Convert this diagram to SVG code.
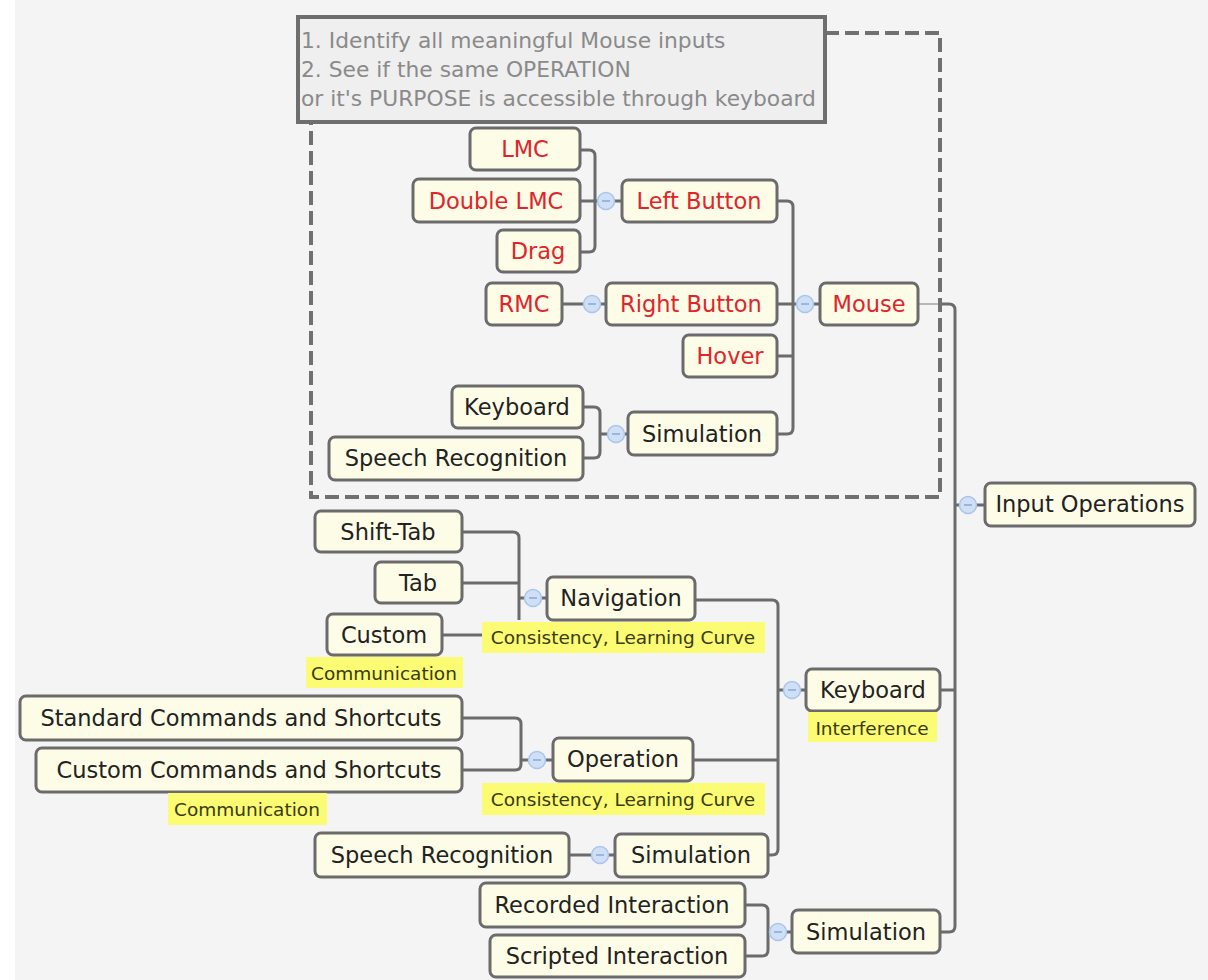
<svg xmlns="http://www.w3.org/2000/svg" width="1208" height="980" viewBox="0 0 1208 980">
<style>
.n{fill:#fdfce6;stroke:#6b6b6b;stroke-width:3}
.t{font-family:"DejaVu Sans",Verdana,sans-serif;font-size:22.5px;fill:#222;text-anchor:middle;dominant-baseline:central}
.r{fill:#e0242b}
.lb{fill:#fbfb74}
.lt{font-family:"DejaVu Sans",Verdana,sans-serif;font-size:18.5px;fill:#3a3a10;text-anchor:middle;dominant-baseline:central}
.c{fill:none;stroke:#6b6b6b;stroke-width:3}
.k{fill:#cfe0f6;stroke:#a9c5ec;stroke-width:1.5}
.km{stroke:#8aa9d6;stroke-width:1.5}
.nt{font-family:"DejaVu Sans",Verdana,sans-serif;font-size:21.8px;fill:#8a8a8a}
</style>
<defs>
<g id="col"><circle r="8.5" class="k"/><line x1="-4" y1="0" x2="4" y2="0" class="km"/></g>
</defs>
<rect x="0" y="0" width="1208" height="980" fill="#ffffff"/>
<rect x="15" y="0" width="1193" height="980" fill="#f4f4f4"/>

<g id="connectors">
<path class="c" d="M580,150 H589 Q595,150 595,156 V246 Q595,252 589,252 H580 M580,201 H598 M614,201 H622"/>
<path class="c" d="M562,304 H584 M600,304 H606"/>
<path class="c" d="M777,201 H787 Q793,201 793,207 V428 Q793,434 787,434 H777 M777,304 H797 M777,356 H793 M813,304 H820"/>
<path class="c" d="M583,407 H594 Q600,407 600,413 V452 Q600,458 594,458 H583 M600,434 H608 M624,434 H628"/>
<path class="c" d="M940,304 H949 Q955,304 955,310 V926 Q955,932 949,932 H940 M940,690 H955 M955,505 H960 M976,505 H985"/>
<path d="M918,304 H942" fill="none" stroke="#b8b8b8" stroke-width="2"/>
<path class="c" d="M695,600 H772 Q778,600 778,606 V849 Q778,855 772,855 H768 M693,760 H778 M778,690 H784 M800,690 H806"/>
<path class="c" d="M462,532 H513 Q519,532 519,538 V620 M462,583 H519 M442,635 H482 M519,598 H525 M541,598 H547"/>
<path class="c" d="M462,718 H515 Q521,718 521,724 V764 Q521,770 515,770 H462 M521,760 H529 M545,760 H553"/>
<path class="c" d="M569,855 H592 M608,855 H615"/>
<path class="c" d="M745,905 H762 Q768,905 768,911 V950 Q768,956 762,956 H745 M768,932 H770 M786,932 H792"/>
<use href="#col" x="606" y="201"/>
<use href="#col" x="592" y="304"/>
<use href="#col" x="805" y="304"/>
<use href="#col" x="616" y="434"/>
<use href="#col" x="968" y="505"/>
<use href="#col" x="792" y="690"/>
<use href="#col" x="533" y="598"/>
<use href="#col" x="537" y="760"/>
<use href="#col" x="600" y="855"/>
<use href="#col" x="778" y="932"/>
</g>

<g id="boundary">
<path d="M825,33 H940 V497 H311 V122" fill="none" stroke="#707070" stroke-width="4" stroke-dasharray="14 6"/>
</g>

<g id="note">
<rect x="298" y="17" width="527" height="105" fill="#efefef" stroke="#6e6e6e" stroke-width="4"/>
<text class="nt" x="301" y="48">1. Identify all meaningful Mouse inputs</text>
<text class="nt" x="301" y="77">2. See if the same OPERATION</text>
<text class="nt" x="301" y="106">or it's PURPOSE is accessible through keyboard</text>
</g>

<g id="lmc"><rect class="n" x="470" y="128" width="110" height="42" rx="6"/><text class="t r" x="525" y="149">LMC</text></g>
<g id="double-lmc"><rect class="n" x="413" y="179" width="167" height="43" rx="6"/><text class="t r" x="496" y="201">Double LMC</text></g>
<g id="drag"><rect class="n" x="497" y="230" width="83" height="42" rx="6"/><text class="t r" x="538" y="251">Drag</text></g>
<g id="left-button"><rect class="n" x="622" y="180" width="155" height="42" rx="6"/><text class="t r" x="699" y="201">Left Button</text></g>
<g id="rmc"><rect class="n" x="486" y="283" width="76" height="42" rx="6"/><text class="t r" x="524" y="304">RMC</text></g>
<g id="right-button"><rect class="n" x="606" y="283" width="171" height="42" rx="6"/><text class="t r" x="691" y="304">Right Button</text></g>
<g id="mouse"><rect class="n" x="820" y="283" width="98" height="42" rx="6"/><text class="t r" x="869" y="304">Mouse</text></g>
<g id="hover"><rect class="n" x="683" y="335" width="94" height="42" rx="6"/><text class="t r" x="730" y="356">Hover</text></g>
<g id="m-keyboard"><rect class="n" x="452" y="386" width="131" height="42" rx="6"/><text class="t" x="517" y="407">Keyboard</text></g>
<g id="m-speech"><rect class="n" x="329" y="437" width="254" height="43" rx="6"/><text class="t" x="456" y="458">Speech Recognition</text></g>
<g id="m-simulation"><rect class="n" x="628" y="412" width="149" height="43" rx="6"/><text class="t" x="702" y="434">Simulation</text></g>

<g id="input-operations"><rect class="n" x="985" y="483" width="210" height="43" rx="6"/><text class="t" x="1090" y="504">Input Operations</text></g>

<g id="shift-tab"><rect class="n" x="315" y="511" width="147" height="41" rx="6"/><text class="t" x="388" y="532">Shift-Tab</text></g>
<g id="tab"><rect class="n" x="375" y="562" width="87" height="41" rx="6"/><text class="t" x="418" y="583">Tab</text></g>
<g id="custom"><rect class="n" x="327" y="614" width="115" height="41" rx="6"/><text class="t" x="384" y="635">Custom</text>
<rect class="lb" x="306" y="657" width="157" height="31"/><text class="lt" x="384" y="673">Communication</text></g>
<g id="navigation"><rect class="n" x="547" y="577" width="148" height="43" rx="6"/><text class="t" x="621" y="598">Navigation</text>
<rect class="lb" x="482" y="622" width="283" height="31"/><text class="lt" x="623" y="637">Consistency, Learning Curve</text></g>

<g id="keyboard"><rect class="n" x="806" y="669" width="134" height="42" rx="6"/><text class="t" x="873" y="690">Keyboard</text>
<rect class="lb" x="808" y="712" width="129" height="30"/><text class="lt" x="872" y="728">Interference</text></g>

<g id="standard-commands"><rect class="n" x="20" y="696" width="442" height="44" rx="6"/><text class="t" x="241" y="718">Standard Commands and Shortcuts</text></g>
<g id="custom-commands"><rect class="n" x="36" y="748" width="426" height="44" rx="6"/><text class="t" x="249" y="770">Custom Commands and Shortcuts</text>
<rect class="lb" x="168" y="793" width="159" height="32"/><text class="lt" x="247" y="809">Communication</text></g>
<g id="operation"><rect class="n" x="553" y="738" width="140" height="43" rx="6"/><text class="t" x="623" y="759">Operation</text>
<rect class="lb" x="482" y="783" width="283" height="32"/><text class="lt" x="623" y="799">Consistency, Learning Curve</text></g>

<g id="k-speech"><rect class="n" x="315" y="833" width="254" height="44" rx="6"/><text class="t" x="442" y="855">Speech Recognition</text></g>
<g id="k-simulation"><rect class="n" x="615" y="834" width="153" height="43" rx="6"/><text class="t" x="691" y="855">Simulation</text></g>

<g id="recorded"><rect class="n" x="480" y="883" width="265" height="44" rx="6"/><text class="t" x="612" y="905">Recorded Interaction</text></g>
<g id="scripted"><rect class="n" x="490" y="935" width="255" height="42" rx="6"/><text class="t" x="617" y="956">Scripted Interaction</text></g>
<g id="simulation"><rect class="n" x="792" y="910" width="148" height="43" rx="6"/><text class="t" x="866" y="932">Simulation</text></g>
</svg>
